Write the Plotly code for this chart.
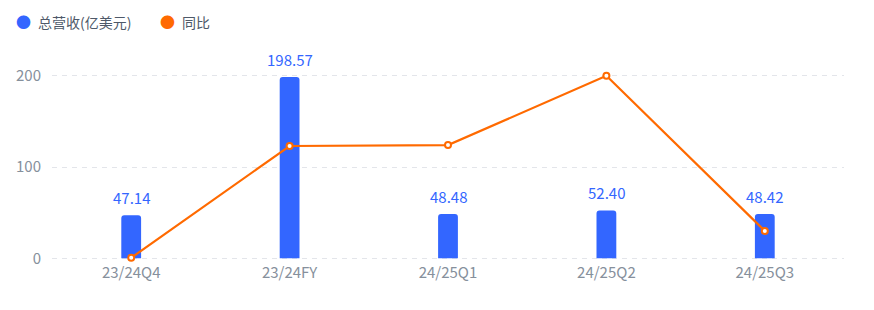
import plotly.graph_objects as go

categories = ["23/24Q4", "23/24FY", "24/25Q1", "24/25Q2", "24/25Q3"]
revenue = [47.14, 198.57, 48.48, 52.40, 48.42]
yoy = [0.5, 123, 124, 200, 30]
revenue_labels = ["47.14", "198.57", "48.48", "52.40", "48.42"]
legend_names = ["总营收(亿美元)", "同比"]

BLUE = "#3366FF"
ORANGE = "#FF6A00"
FONT = "Noto Sans CJK SC, Noto Sans, sans-serif"

fig = go.Figure()
fig.add_trace(go.Bar(
    x=categories, y=revenue, marker=dict(color=BLUE, line=dict(width=0)),
    width=0.125, showlegend=False, hoverinfo="skip", name=legend_names[0],
))
fig.add_trace(go.Scatter(
    x=categories, y=yoy, yaxis="y2", mode="lines+markers", name=legend_names[1],
    line=dict(color=ORANGE, width=2.2),
    marker=dict(symbol="circle", size=6, color="white", line=dict(color=ORANGE, width=2)),
    showlegend=False, hoverinfo="skip", cliponaxis=False,
))

for c, v, t in zip(categories, revenue, revenue_labels):
    fig.add_annotation(x=c, y=v, text=t, showarrow=False, yanchor="bottom",
                       yshift=5, font=dict(color=BLUE, size=15, family=FONT))

# legend drawn as annotations
legend_x = [14, 158]
for name, color, lx in zip(legend_names, [BLUE, ORANGE], legend_x):
    fig.add_annotation(xref="paper", yref="paper", x=0, y=1, xshift=lx - 52, yshift=73.3 - 22,
                       xanchor="left", yanchor="middle", showarrow=False,
                       text=f"<span style='color:{color};font-size:15px'>●</span>"
                            f"<span style='font-size:3px'> </span>  {name}",
                       font=dict(size=14, color="#4E5969", family=FONT))

fig.update_layout(
    width=874, height=310,
    margin=dict(l=52, r=30, t=73.3, b=49.3),
    paper_bgcolor="white", plot_bgcolor="white",
    font=dict(family=FONT, size=15, color="#86909C"),
    barcornerradius=3,
    showlegend=False,
    xaxis=dict(showgrid=False, showline=False, ticks="", zeroline=False,
               ticklabelstandoff=1,
               tickfont=dict(size=15, color="#86909C")),
    yaxis=dict(range=[-3, 203], tickvals=[0, 100, 200], showline=False,
               gridcolor="#E3E5EA", griddash="5px,5px", gridwidth=1,
               zeroline=False, ticks="", ticklabelstandoff=10,
               tickfont=dict(size=15, color="#86909C")),
    yaxis2=dict(range=[-3, 203], overlaying="y", side="right", visible=False),
)

fig.write_html("out.html")
